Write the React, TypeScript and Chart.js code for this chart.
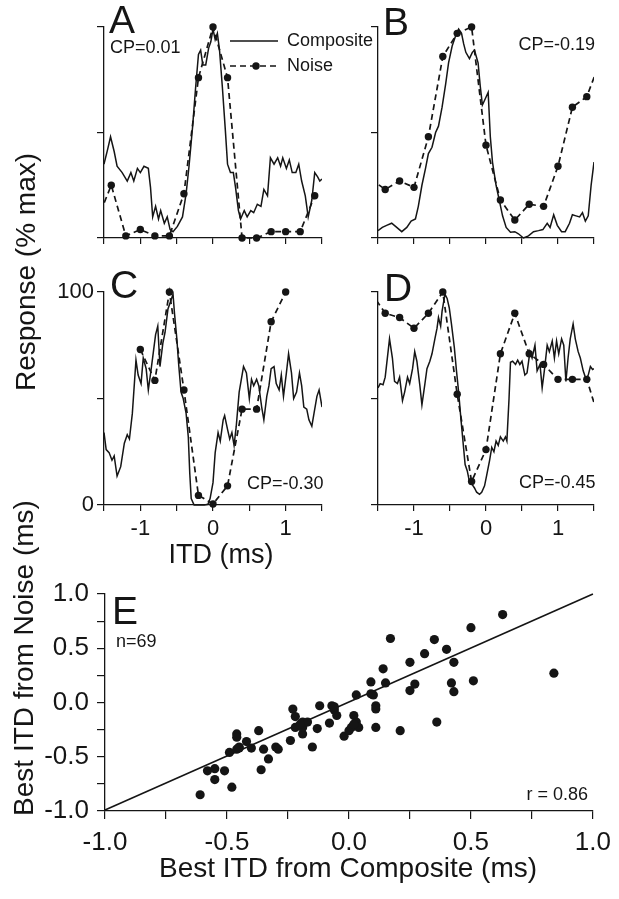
import React, { useEffect, useRef } from "react";
import { Chart, registerables } from "chart.js";
Chart.register(...registerables);

const W = 619;
const H = 899;
const FONT = '"Liberation Sans", Arial, Helvetica, sans-serif';
const INK = "#151515";

// ---------- Panel A ----------
const compAx = [-1.5,-1.45,-1.41,-1.36,-1.32,-1.25,-1.18,-1.13,-1.09,-1.04,-1.0,-0.95,-0.89,-0.86,-0.83,-0.79,-0.75,-0.72,-0.67,-0.63,-0.59,-0.55,-0.49,-0.42,-0.37,-0.33,-0.28,-0.24,-0.2,-0.17,-0.14,-0.1,-0.06,-0.03,0.0,0.03,0.06,0.09,0.13,0.17,0.2,0.24,0.28,0.31,0.35,0.38,0.43,0.47,0.52,0.56,0.61,0.66,0.7,0.75,0.79,0.84,0.89,0.93,0.96,1.01,1.05,1.09,1.14,1.18,1.22,1.27,1.31,1.36,1.4,1.44,1.47,1.5];
const compAy = [35,42,48,41,34,31,27,31,27,33,31,34,33,24,10,15,9,13,7,10,4,3,5.5,10,21,34,53,71,87,89,82,82,90,93,99,94,97,89,71,51,35,31,31,24,13,9,13,10,13,12,16,15,23,20,38,35,38,34,38,33,37,31,31,35,27,20,10,18,31,29,27,28];
const noiseAx = [-1.6,-1.4,-1.2,-1.0,-0.8,-0.6,-0.4,-0.2,0,0.2,0.4,0.6,0.8,1.0,1.2,1.4];
const noiseAy = [8,25,1,4,1,1,21,76,100,76,0,0,3,3,3,20];

// ---------- Panel B ----------
const compBx = [-1.5,-1.44,-1.38,-1.31,-1.24,-1.17,-1.1,-1.04,-0.98,-0.94,-0.89,-0.84,-0.8,-0.75,-0.7,-0.66,-0.61,-0.56,-0.52,-0.47,-0.43,-0.38,-0.34,-0.31,-0.28,-0.23,-0.19,-0.16,-0.11,-0.08,-0.05,-0.01,0.03,0.06,0.09,0.14,0.19,0.23,0.28,0.34,0.4,0.45,0.52,0.59,0.66,0.73,0.79,0.85,0.89,0.94,0.99,1.05,1.1,1.16,1.2,1.25,1.3,1.34,1.38,1.42,1.46,1.5];
const compBy = [3.5,5,6,7,5,3,5,8,9,15,25,33,40,43,50,53,62,73,83,91,95,99,97,92,88,85,88,89,83,72,63,66,69,48,36,25,17,10.5,5,2.7,3,2,0,1,3,3.5,4,7,5,11,6,3,3,7,11,10.5,10,12,8,10.5,25,36];
const noiseBx = [-1.6,-1.4,-1.2,-1.0,-0.8,-0.6,-0.4,-0.2,0,0.2,0.4,0.6,0.8,1.0,1.2,1.4,1.6];
const noiseBy = [28,23,27,24,48,86,97,100,44,18,8.5,16,15,34,62,67,85];

// ---------- Panel C ----------
const compCx = [-1.5,-1.47,-1.43,-1.39,-1.36,-1.32,-1.27,-1.22,-1.18,-1.15,-1.11,-1.06,-1.03,-0.99,-0.96,-0.92,-0.89,-0.85,-0.82,-0.79,-0.76,-0.73,-0.69,-0.66,-0.62,-0.59,-0.55,-0.53,-0.5,-0.47,-0.44,-0.41,-0.37,-0.34,-0.32,-0.3,-0.26,-0.19,-0.12,-0.07,-0.04,0.0,0.03,0.07,0.1,0.14,0.16,0.2,0.23,0.26,0.29,0.32,0.36,0.39,0.42,0.46,0.5,0.53,0.56,0.6,0.63,0.67,0.7,0.74,0.77,0.8,0.84,0.87,0.91,0.94,0.97,1.01,1.04,1.08,1.11,1.15,1.19,1.22,1.25,1.29,1.32,1.36,1.39,1.43,1.46,1.5];
const compCy = [34,26,24.6,21,23,13.6,18,29,33,31,43,68,61,57,69,64,54,64,72,80,84,65,76,81,92,95,99,90,79,65,53,50,43,32,15,3,0,0,0,0.3,3,10.5,24.6,34,30,40,42,35.5,31,34,28,37,53,59,65,62,50,59,56,59,56,46,40,51,56,64,65,57,54,61,51,62,71,62,50,53,62,56,46,45,40,37,43,51,54,46];
const noiseCx = [-1.0,-0.8,-0.6,-0.4,-0.2,0,0.2,0.4,0.6,0.8,1.0];
const noiseCy = [73,58.5,100,54,4.5,0.5,9,45,45,86,100];

// ---------- Panel D ----------
const compDx = [-1.5,-1.47,-1.43,-1.4,-1.36,-1.34,-1.3,-1.27,-1.23,-1.2,-1.16,-1.13,-1.09,-1.06,-1.02,-0.99,-0.96,-0.92,-0.89,-0.85,-0.82,-0.78,-0.75,-0.71,-0.68,-0.66,-0.63,-0.61,-0.57,-0.54,-0.51,-0.48,-0.44,-0.41,-0.38,-0.35,-0.32,-0.29,-0.26,-0.23,-0.2,-0.16,-0.13,-0.09,-0.06,-0.02,0.01,0.05,0.08,0.11,0.14,0.17,0.2,0.24,0.27,0.29,0.32,0.34,0.37,0.41,0.44,0.47,0.5,0.54,0.57,0.61,0.64,0.68,0.71,0.75,0.78,0.81,0.85,0.88,0.92,0.95,0.98,1.01,1.05,1.08,1.11,1.14,1.17,1.21,1.24,1.28,1.31,1.35,1.39,1.42,1.45,1.48,1.5];
const compDy = [55,57,56.5,60,72,78,69,58,57,60,49,53,60,57,64,72,67.5,56.5,47,56.5,64,67.5,71,78,83,88,84,91,99,97,92.5,85,74,63,53,41,30,19,16,11,10,8,6,5,6,9,14,21,27,25,30,28,32,30,32,30,50,67,67.5,66,68,66,67.5,61,62,72,69,75,63,66,55,63,75,72,77,69,77,71,78,75,58,69,78,85,78,72,69,63,59,61,65,63.6,64];
const noiseDx = [-1.6,-1.4,-1.2,-1.0,-0.8,-0.6,-0.4,-0.2,0,0.2,0.4,0.6,0.8,1.0,1.2,1.4,1.6];
const noiseDy = [100,90,88,83,90,100,52,11,26,71,90,71,66,59,59,59,37];

// ---------- Panel E ----------
const bestComposite = [-0.61,-0.58,-0.55,-0.55,-0.51,-0.48,-0.49,-0.46,-0.46,-0.46,-0.45,-0.42,-0.4,-0.37,-0.35,-0.36,-0.33,-0.3,-0.29,-0.24,-0.23,-0.22,-0.22,-0.19,-0.19,-0.19,-0.17,-0.15,-0.13,-0.12,-0.08,-0.07,-0.06,-0.05,-0.02,0.0,0.01,0.02,0.03,0.03,0.04,0.09,0.09,0.1,0.11,0.11,0.11,0.14,0.15,0.17,0.21,0.25,0.25,0.27,0.31,0.35,0.36,0.4,0.43,0.42,0.43,0.5,0.51,0.63,0.84,-0.2,-0.06,0.02,-0.45];
const bestNoise = [-0.85,-0.63,-0.61,-0.71,-0.63,-0.78,-0.46,-0.29,-0.32,-0.43,-0.41,-0.36,-0.42,-0.26,-0.43,-0.62,-0.52,-0.41,-0.43,-0.35,-0.06,-0.13,-0.23,-0.18,-0.29,-0.23,-0.18,-0.41,-0.24,-0.03,-0.19,-0.03,-0.07,-0.12,-0.31,-0.26,-0.23,-0.12,0.07,-0.18,-0.23,0.19,0.08,0.07,-0.03,-0.06,-0.23,0.31,0.18,0.59,-0.26,0.11,0.37,0.17,0.45,0.58,-0.18,0.49,0.37,0.18,0.1,0.69,0.2,0.81,0.27,-0.2,-0.04,-0.2,-0.42];
const fitX = [-1.0, 1.0];
const fitY = [-0.99, 1.0];

const panelTicks = [-1.5, -1, -0.5, 0, 0.5, 1, 1.5];
const panelYTicks = [0, 50, 100];
const eTicks = [-1, -0.75, -0.5, -0.25, 0, 0.25, 0.5, 0.75, 1];

type Rect = { l: number; t: number; r: number; b: number };
type TextItem = { text: string; x: number; y: number; size: number; align?: CanvasTextAlign; base?: CanvasTextBaseline; rot?: boolean };

const YW = 60;
const XH = 50;

function pairs(xs: number[], ys: number[]) {
  const n = Math.min(xs.length, ys.length);
  const out: { x: number; y: number }[] = [];
  for (let i = 0; i < n; i++) out.push({ x: xs[i], y: ys[i] });
  return out;
}

function textPlugin(items: TextItem[], extra?: (ctx: CanvasRenderingContext2D) => void) {
  return {
    id: "txt",
    afterDraw(chart: any) {
      const ctx: CanvasRenderingContext2D = chart.ctx;
      items.forEach((it) => {
        ctx.save();
        ctx.font = `${it.size}px ${FONT}`;
        ctx.fillStyle = INK;
        ctx.textAlign = it.align || "left";
        ctx.textBaseline = it.base || "alphabetic";
        ctx.translate(it.x, it.y);
        if (it.rot) ctx.rotate(-Math.PI / 2);
        ctx.fillText(it.text, 0, 0);
        ctx.restore();
      });
      if (extra) {
        ctx.save();
        extra(ctx);
        ctx.restore();
      }
    },
  };
}

const near = (a: number, b: number) => Math.abs(a - b) < 1e-6;

function layoutPadding(rect: Rect) {
  return { left: rect.l - YW, top: rect.t, right: W - rect.r, bottom: H - rect.b - XH };
}

function axisCommon(tickLen: number) {
  return {
    grid: { display: true, drawOnChartArea: false, drawTicks: true, tickLength: tickLen, color: INK, tickColor: INK, lineWidth: 1.2 },
    border: { display: true, color: INK, width: 1.3 },
  };
}

function panelConfig(rect: Rect, comp: any[], noise: any[], showX: boolean, showY: boolean, plugin: any) {
  return {
    type: "line",
    data: {
      datasets: [
        {
          data: noise,
          borderColor: INK,
          borderWidth: 1.7,
          borderDash: [6, 4],
          pointRadius: (c: any) => {
            const x = c.raw ? c.raw.x : 0;
            return x < -1.5 || x > 1.5 ? 0 : 3.7;
          },
          pointBackgroundColor: INK,
          pointBorderColor: INK,
          pointBorderWidth: 0,
          tension: 0,
          clip: { left: 0, right: 0, top: 10, bottom: 10 },
        },
        {
          data: comp,
          borderColor: INK,
          borderWidth: 1.5,
          pointRadius: 0,
          tension: 0,
          clip: { left: 0, right: 0, top: 4, bottom: 4 },
        },
      ],
    },
    options: {
      animation: false,
      responsive: false,
      devicePixelRatio: 1,
      events: [],
      layout: { padding: layoutPadding(rect) },
      plugins: { legend: { display: false }, tooltip: { enabled: false } },
      scales: {
        x: {
          type: "linear",
          min: -1.5,
          max: 1.5,
          afterBuildTicks: (s: any) => {
            s.ticks = panelTicks.map((v) => ({ value: v }));
          },
          afterFit: (s: any) => {
            s.height = XH;
          },
          ticks: {
            autoSkip: false,
            maxRotation: 0,
            padding: 5,
            color: INK,
            font: { family: FONT, size: 22 },
            callback: (v: number) => (showX && (near(v, -1) || near(v, 0) || near(v, 1)) ? String(Math.round(v)) : ""),
          },
          ...axisCommon(6),
        },
        y: {
          type: "linear",
          min: 0,
          max: 100,
          afterBuildTicks: (s: any) => {
            s.ticks = panelYTicks.map((v) => ({ value: v }));
          },
          afterFit: (s: any) => {
            s.width = YW;
          },
          ticks: {
            autoSkip: false,
            padding: 3,
            color: INK,
            font: { family: FONT, size: 22 },
            callback: (v: number) => (showY && (near(v, 0) || near(v, 100)) ? String(v) : ""),
          },
          ...axisCommon(7),
        },
      },
    },
    plugins: [plugin],
  };
}

function scatterConfig(rect: Rect, plugin: any) {
  const tickLabel = (v: number) => (near(v * 2, Math.round(v * 2)) ? v.toFixed(1) : "");
  return {
    type: "scatter",
    data: {
      datasets: [
        {
          data: pairs(bestComposite, bestNoise),
          pointRadius: 4.6,
          pointBackgroundColor: INK,
          pointBorderColor: INK,
          pointBorderWidth: 0,
          clip: false,
        },
        {
          data: pairs(fitX, fitY),
          showLine: true,
          borderColor: INK,
          borderWidth: 1.6,
          pointRadius: 0,
          clip: false,
        },
      ],
    },
    options: {
      animation: false,
      responsive: false,
      devicePixelRatio: 1,
      events: [],
      layout: { padding: layoutPadding(rect) },
      plugins: { legend: { display: false }, tooltip: { enabled: false } },
      scales: {
        x: {
          type: "linear",
          min: -1,
          max: 1,
          afterBuildTicks: (s: any) => {
            s.ticks = eTicks.map((v) => ({ value: v }));
          },
          afterFit: (s: any) => {
            s.height = XH;
          },
          ticks: { autoSkip: false, maxRotation: 0, padding: 8, color: INK, font: { family: FONT, size: 26 }, callback: tickLabel },
          ...axisCommon(8),
        },
        y: {
          type: "linear",
          min: -1,
          max: 1,
          afterBuildTicks: (s: any) => {
            s.ticks = eTicks.map((v) => ({ value: v }));
          },
          afterFit: (s: any) => {
            s.width = YW;
          },
          ticks: { autoSkip: false, padding: 8, color: INK, font: { family: FONT, size: 26 }, callback: tickLabel },
          ...axisCommon(8),
        },
      },
    },
    plugins: [plugin],
  };
}

const rectA: Rect = { l: 104, t: 27, r: 322, b: 238 };
const rectB: Rect = { l: 378, t: 27, r: 594, b: 238 };
const rectC: Rect = { l: 104, t: 292, r: 322, b: 505 };
const rectD: Rect = { l: 378, t: 292, r: 594, b: 505 };
const rectE: Rect = { l: 105, t: 594, r: 594, b: 811 };

function legendDraw(ctx: CanvasRenderingContext2D) {
  ctx.strokeStyle = INK;
  ctx.fillStyle = INK;
  ctx.lineWidth = 1.6;
  ctx.beginPath();
  ctx.moveTo(230, 41);
  ctx.lineTo(278, 41);
  ctx.stroke();
  ctx.setLineDash([6, 4]);
  ctx.lineWidth = 1.7;
  ctx.beginPath();
  ctx.moveTo(230, 66);
  ctx.lineTo(278, 66);
  ctx.stroke();
  ctx.setLineDash([]);
  ctx.beginPath();
  ctx.arc(256, 66, 3.7, 0, Math.PI * 2);
  ctx.fill();
  ctx.font = `18px ${FONT}`;
  ctx.textBaseline = "middle";
  ctx.textAlign = "left";
  ctx.fillText("Composite", 287, 41);
  ctx.fillText("Noise", 287, 66);
}

export default function App() {
  const refA = useRef<HTMLCanvasElement>(null);
  const refB = useRef<HTMLCanvasElement>(null);
  const refC = useRef<HTMLCanvasElement>(null);
  const refD = useRef<HTMLCanvasElement>(null);
  const refE = useRef<HTMLCanvasElement>(null);

  useEffect(() => {
    const charts: Chart[] = [];
    const make = (ref: any, cfg: any) => {
      if (ref.current) charts.push(new Chart(ref.current, cfg));
    };
    make(
      refA,
      panelConfig(rectA, pairs(compAx, compAy), pairs(noiseAx, noiseAy), false, false,
        textPlugin(
          [
            { text: "A", x: 109, y: 33, size: 39 },
            { text: "CP=0.01", x: 110, y: 53, size: 18 },
          ],
          legendDraw
        ))
    );
    make(
      refB,
      panelConfig(rectB, pairs(compBx, compBy), pairs(noiseBx, noiseBy), false, false,
        textPlugin([
          { text: "B", x: 383, y: 35, size: 39 },
          { text: "CP=-0.19", x: 595, y: 50, size: 18, align: "right" },
        ]))
    );
    make(
      refC,
      panelConfig(rectC, pairs(compCx, compCy), pairs(noiseCx, noiseCy), true, true,
        textPlugin([
          { text: "C", x: 110, y: 298, size: 39 },
          { text: "CP=-0.30", x: 247, y: 489, size: 18 },
          { text: "Response (% max)", x: 27, y: 272, size: 28, align: "center", base: "middle", rot: true },
          { text: "ITD (ms)", x: 221, y: 563, size: 27, align: "center" },
        ]))
    );
    make(
      refD,
      panelConfig(rectD, pairs(compDx, compDy), pairs(noiseDx, noiseDy), true, false,
        textPlugin([
          { text: "D", x: 384, y: 301, size: 39 },
          { text: "CP=-0.45", x: 519, y: 488, size: 18 },
        ]))
    );
    make(
      refE,
      scatterConfig(rectE,
        textPlugin([
          { text: "E", x: 112, y: 624, size: 39 },
          { text: "n=69", x: 116, y: 647, size: 18 },
          { text: "r = 0.86", x: 588, y: 800, size: 18, align: "right" },
          { text: "Best ITD from Noise (ms)", x: 25, y: 658, size: 28, align: "center", base: "middle", rot: true },
          { text: "Best ITD from Composite (ms)", x: 348, y: 877, size: 28, align: "center" },
        ]))
    );
    return () => charts.forEach((c) => c.destroy());
  }, []);

  const cs: React.CSSProperties = { position: "absolute", left: 0, top: 0, width: W, height: H };
  return (
    <div style={{ position: "absolute", left: 0, top: 0, width: W, height: H, background: "#fff", overflow: "hidden" }}>
      <canvas ref={refA} width={W} height={H} style={cs} />
      <canvas ref={refB} width={W} height={H} style={cs} />
      <canvas ref={refC} width={W} height={H} style={cs} />
      <canvas ref={refD} width={W} height={H} style={cs} />
      <canvas ref={refE} width={W} height={H} style={cs} />
    </div>
  );
}
